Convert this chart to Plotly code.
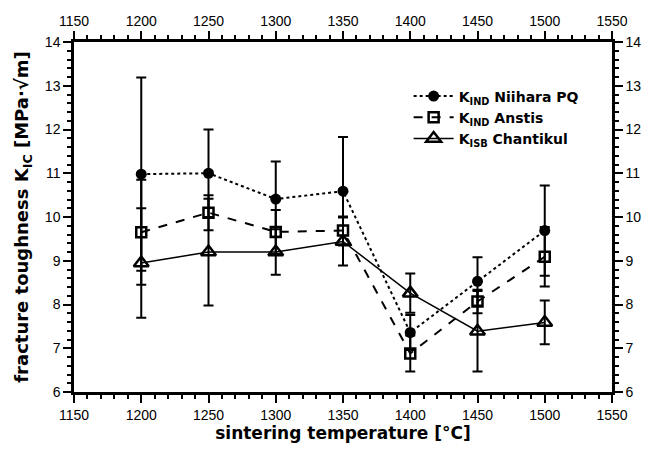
import plotly.graph_objects as go

temps = [1200, 1250, 1300, 1350, 1400, 1450, 1500]
niihara = [10.98, 11.00, 10.41, 10.59, 7.36, 8.53, 9.69]
niihara_err = [2.21, 1.00, 0.86, 1.24, 0.40, 0.55, 1.03]
anstis = [9.65, 10.10, 9.66, 9.69, 6.88, 8.07, 9.09]
anstis_err = [1.20, 0.40, 0.50, 0.32, 0.41, 0.27, 0.68]
chantikul = [8.95, 9.20, 9.20, 9.44, 8.26, 7.39, 7.59]
chantikul_err = [1.25, 1.22, 0.52, 0.55, 0.45, 0.92, 0.50]

x_ticks = [1150, 1200, 1250, 1300, 1350, 1400, 1450, 1500, 1550]
y_ticks = [6, 7, 8, 9, 10, 11, 12, 13, 14]

FONT = "Liberation Sans"
BOLD = "DejaVu Sans"
black = "black"

def err(arr):
    return dict(type="data", array=arr, visible=True, color=black, thickness=2, width=5)

fig = go.Figure()
fig.add_trace(go.Scatter(
    x=temps, y=niihara, mode="lines+markers",
    name="<b>K<sub>IND</sub> Niihara PQ</b>",
    line=dict(color=black, width=2, dash="dot"),
    marker=dict(symbol="circle", size=11, color=black),
    error_y=err(niihara_err)))
fig.add_trace(go.Scatter(
    x=temps, y=anstis, mode="lines+markers",
    name="<b>K<sub>IND</sub> Anstis</b>",
    line=dict(color=black, width=2, dash="dash"),
    marker=dict(symbol="square-open", size=10, color=black, line=dict(width=2.5)),
    error_y=err(anstis_err)))
fig.add_trace(go.Scatter(
    x=temps, y=chantikul, mode="lines+markers",
    name="<b>K<sub>ISB</sub> Chantikul</b>",
    line=dict(color=black, width=1.5),
    marker=dict(symbol="triangle-up-open", size=13, color=black, line=dict(width=2.5)),
    error_y=err(chantikul_err)))
# helper trace for top/right axes
fig.add_trace(go.Scatter(x=[temps[0]], y=[niihara[0]], xaxis="x2", yaxis="y2",
                         mode="markers", marker=dict(opacity=0), showlegend=False,
                         hoverinfo="skip"))

axis_common = dict(
    showline=True, linecolor=black, linewidth=2.5,
    ticks="outside", ticklen=8, tickwidth=2, tickcolor=black,
    showgrid=False, zeroline=False,
    tickfont=dict(family=FONT, size=14, color=black),
)

fig.update_layout(
    width=653, height=455,
    margin=dict(l=74, r=37, t=42, b=63),
    paper_bgcolor="white", plot_bgcolor="white",
    xaxis=dict(range=[1150, 1550], tickvals=x_ticks,
               minor=dict(ticks="outside", ticklen=4, tickwidth=2, tickcolor=black, dtick=10),
               title=dict(text="<b>sintering temperature [°C]</b>",
                          font=dict(family=BOLD, size=17, color=black), standoff=4),
               **axis_common),
    yaxis=dict(range=[6, 14], tickvals=y_ticks,
               minor=dict(ticks="outside", ticklen=4, tickwidth=2, tickcolor=black, dtick=0.2),
               title=dict(text="<b>fracture toughness K<sub>IC</sub> [MPa·√m]</b>",
                          font=dict(family=BOLD, size=18, color=black), standoff=12),
               **axis_common),
    xaxis2=dict(range=[1150, 1550], tickvals=x_ticks, overlaying="x", side="top",
                minor=dict(ticks="outside", ticklen=4, tickwidth=2, tickcolor=black, dtick=10),
                anchor="y", **axis_common),
    yaxis2=dict(range=[6, 14], tickvals=y_ticks, overlaying="y", side="right",
                minor=dict(ticks="outside", ticklen=4, tickwidth=2, tickcolor=black, dtick=0.2),
                anchor="x", **axis_common),
    legend=dict(x=0.622, y=0.89, xanchor="left", yanchor="top",
                font=dict(family=BOLD, size=14, color=black),
                bgcolor="rgba(0,0,0,0)", itemwidth=40, tracegroupgap=0),
    showlegend=True,
)

fig.write_html("out.html")
